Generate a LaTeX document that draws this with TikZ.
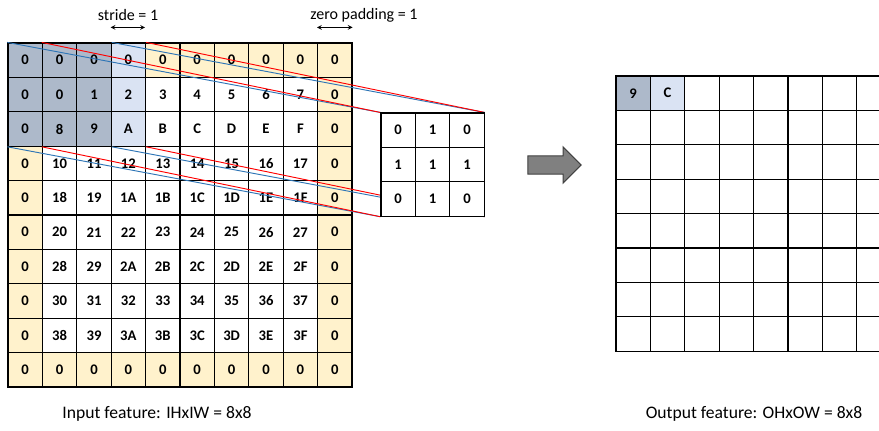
\documentclass[tikz,border=0pt]{standalone}
\usepackage{fontspec}
\setmainfont{Carlito}
\usetikzlibrary{calc,shapes.arrows}
\pgfdeclarelayer{front}
\pgfsetlayers{main,front}
\definecolor{winGrey}{HTML}{ADB9CA}
\definecolor{winBlue}{HTML}{DAE3F3}
\definecolor{padCream}{HTML}{FFF2CC}
\definecolor{lineBlue}{HTML}{2E75B6}
\tikzset{
	cell/.style={draw=black,line width=0.9pt,minimum size=25.8pt,inner sep=0pt,
		font=\fontsize{11}{13}\selectfont\bfseries},
	kcell/.style={cell,fill=white,line width=0.8pt},
	ocell/.style={cell,line width=0.8pt},
	lbl/.style={font=\fontsize{12}{14}\selectfont},
	caption/.style={font=\fontsize{13.2}{15}\selectfont},
	proj/.style={line width=0.7pt}
}

\begin{document}
\begin{tikzpicture}[x=0.75pt,y=-0.75pt]
	\clip (0,0) rectangle (879,430);
	\useasboundingbox (0,0) rectangle (879,430);
	
	%input feature with zero padding
	\foreach \r in {0,...,9}{
		\foreach \c in {0,...,9}{
			\pgfmathtruncatemacro\pad{(\r==0)||(\r==9)||(\c==0)||(\c==9)}
			\pgfmathtruncatemacro\idx{(\r-1)*8+\c-1}
			\ifnum\pad=1 \def\txt{0}\else \pgfmathparse{Hex(\idx)}\let\txt\pgfmathresult\fi
			\def\fillc{white}
			\ifnum\pad=1 \def\fillc{padCream}\fi
			\ifnum\r<3 \ifnum\c<3 \def\fillc{winGrey}\fi \ifnum\c=3 \def\fillc{winBlue}\fi \fi
			\node[cell,fill=\fillc] (in-\r-\c) at ({25.2+34.4*\c},{60.2+34.4*\r}) {\txt};
		}
	}
	
	%kernel 3x3 (on top of the projection lines)
	\begin{pgfonlayer}{front}
	\foreach \row [count=\r from 0] in {{0,1,0},{1,1,1},{0,1,0}}{
		\foreach \v [count=\c from 0] in \row{
			\node[kcell] (k-\r-\c) at ({398.2+34.4*\c},{130.2+34.4*\r}) {\v};
		}
	}
	\end{pgfonlayer}
	
	%output feature
	\foreach \r in {0,...,7}{
		\foreach \c in {0,...,7}{
			\node[ocell] (out-\r-\c) at ({633.2+34.4*\c},{93.2+34.4*\r}) {};
		}
	}
	\node[ocell,fill=winGrey] at (out-0-0) {9};
	\node[ocell,fill=winBlue] at (out-0-1) {C};
	
	%projection lines window -> kernel
	\draw[proj,lineBlue] (in-0-0.north west) -- (k-0-0.north west);
	\draw[proj,lineBlue] (in-0-2.north east) -- (k-0-2.north east);
	\draw[proj,lineBlue] (in-2-0.south west) -- (k-2-0.south west);
	\draw[proj,lineBlue] (in-2-2.south east) -- (k-2-2.south east);
	\draw[proj,red] (in-0-1.north west) -- (k-0-0.north west);
	\draw[proj,red] (in-0-3.north east) -- (k-0-2.north east);
	\draw[proj,red] (in-2-1.south west) -- (k-2-0.south west);
	\draw[proj,red] (in-2-3.south east) -- (k-2-2.south east);
	
	%stride and padding marks
	\node[lbl] (strideLbl) at (128,15) {stride = 1};
	\draw[<->,>=stealth,semithick] ($(in-0-3.north west)+(0,-15)$) -- ($(in-0-4.north west)+(0,-15)$);
	\node[lbl] (padLbl) at (364,15) {zero padding = 1};
	\draw[<->,>=stealth,semithick] ($(in-0-9.north west)+(0,-15)$) -- ($(in-0-9.north east)+(0,-15)$);
	
	%arrow between input and output
	\node[single arrow,draw=black!75,fill=black!50,line width=0.8pt,inner sep=0pt,
		inner ysep=6.4pt,minimum height=40pt,single arrow head extend=6.8pt] (convArrow) at (550,165) {};
	
	%captions
	\node[caption] (inLbl) at (157,414) {Input feature: IHxIW = 8x8};
	\node[caption] (outLbl) at (754,414) {Output feature: OHxOW = 8x8};
\end{tikzpicture}
\end{document}
